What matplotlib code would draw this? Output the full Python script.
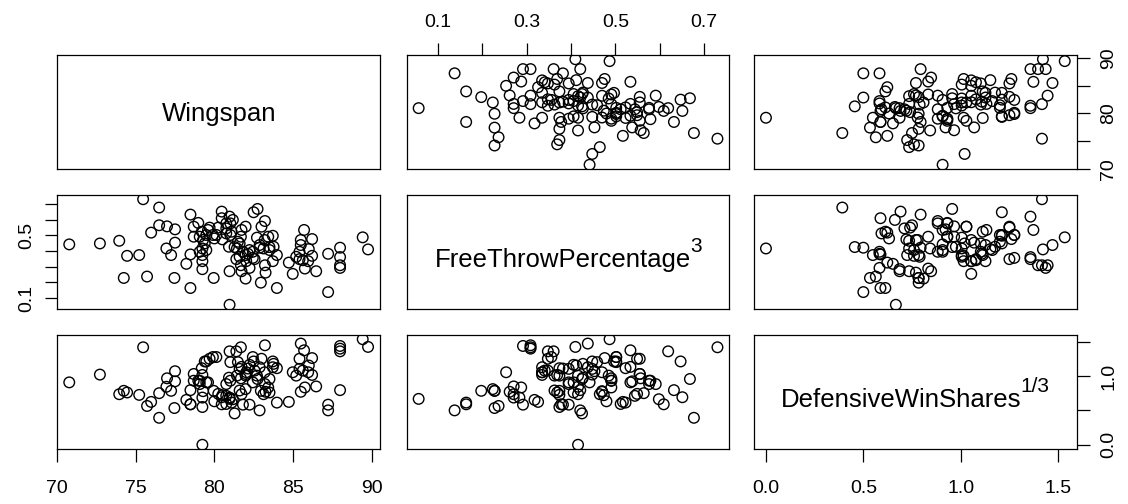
#scatterplot matrix of wingspan, free throw % and defensive win shares

import numpy as np
import matplotlib
matplotlib.use("Agg")
import matplotlib.pyplot as plt

plt.rcParams['font.family'] = ['Liberation Sans', 'DejaVu Sans']

wingspan = [70.76, 72.71, 73.94, 74.44, 75.21, 74.23, 75.71, 75.46, 76.48, 76.48,
            75.97, 76.98, 77.49, 77.49, 76.94, 77.24, 77.45, 78.47, 78.47, 78.21,
            78.47, 78.97, 78.68, 78.68, 79.06, 79.19, 79.27, 79.23, 79.48, 79.23,
            79.23, 79.23, 79.69, 79.90, 79.99, 79.95, 80.24, 80.46, 80.46, 80.96,
            81.17, 81.01, 80.75, 81.01, 80.50, 80.92, 80.96, 80.96, 81.60, 81.43,
            81.68, 81.72, 81.98, 81.60, 81.81, 81.98, 82.23, 82.44, 82.23, 81.72,
            81.98, 82.49, 82.74, 82.99, 83.21, 82.70, 82.87, 83.12, 83.42, 83.71,
            83.50, 83.76, 83.71, 83.97, 83.21, 83.25, 82.95, 83.97, 84.73, 84.98,
            85.20, 85.41, 85.49, 85.49, 85.70, 86.00, 86.21, 86.21, 85.75, 85.96,
            86.47, 87.23, 87.99, 87.99, 87.99, 87.99, 87.23, 89.43, 89.77, 81.28,
            81.49, 82.13, 81.39, 82.87, 83.50, 82.55, 80.12, 80.75, 81.09, 79.48,
            79.38, 79.06, 82.02, 81.68, 82.44, 83.19, 85.41, 85.62, 80.75, 79.59]

ft_cubed = [0.442, 0.448, 0.465, 0.369, 0.374, 0.228, 0.237, 0.730, 0.677, 0.564,
            0.517, 0.557, 0.538, 0.453, 0.416, 0.374, 0.228, 0.632, 0.378, 0.318,
            0.164, 0.579, 0.555, 0.491, 0.491, 0.523, 0.470, 0.416, 0.406, 0.374,
            0.335, 0.284, 0.549, 0.502, 0.480, 0.228, 0.549, 0.651, 0.609, 0.619,
            0.598, 0.576, 0.512, 0.502, 0.474, 0.427, 0.271, 0.057, 0.448, 0.416,
            0.491, 0.534, 0.555, 0.363, 0.395, 0.374, 0.406, 0.356, 0.292, 0.271,
            0.224, 0.647, 0.668, 0.555, 0.591, 0.485, 0.421, 0.416, 0.491, 0.497,
            0.406, 0.427, 0.335, 0.374, 0.309, 0.262, 0.198, 0.164, 0.326, 0.254,
            0.363, 0.348, 0.470, 0.438, 0.534, 0.412, 0.476, 0.369, 0.288, 0.335,
            0.271, 0.382, 0.421, 0.361, 0.309, 0.292, 0.138, 0.487, 0.410, 0.425,
            0.459, 0.382, 0.348, 0.438, 0.425, 0.348, 0.502, 0.544, 0.523, 0.502,
            0.448, 0.395, 0.335, 0.309, 0.395, 0.470, 0.395, 0.341, 0.576, 0.534]

wing_dws = [70.76, 72.71, 73.94, 74.19, 74.44, 75.21, 75.46, 75.71, 75.97, 76.48,
            76.48, 76.48, 76.94, 76.98, 77.24, 77.45, 77.45, 77.49, 78.21, 78.47,
            78.47, 78.47, 78.68, 78.76, 79.02, 79.23, 79.27, 79.19, 79.27, 79.44,
            79.23, 79.23, 79.23, 79.23, 79.23, 79.48, 79.74, 79.90, 80.03, 80.24,
            80.20, 80.46, 80.46, 80.71, 80.71, 80.96, 81.26, 80.96, 80.96, 80.96,
            80.96, 80.96, 81.22, 81.47, 81.43, 81.47, 81.68, 81.72, 81.72, 81.68,
            81.98, 81.98, 81.98, 81.98, 82.19, 82.28, 82.44, 82.70, 82.70, 82.95,
            82.95, 82.95, 83.21, 82.91, 83.21, 83.21, 83.46, 83.50, 83.71, 83.97,
            83.71, 83.97, 84.69, 84.94, 85.20, 85.49, 85.75, 85.49, 85.49, 85.53,
            85.49, 85.75, 86.00, 86.00, 86.21, 86.25, 86.47, 87.23, 87.23, 87.99,
            87.99, 87.99, 87.99, 87.99, 89.43, 89.77, 80.01, 80.12, 80.86, 80.54,
            81.49, 82.02, 81.49, 81.92, 82.44, 80.75, 83.50, 78.85, 82.23, 82.87]

dws_root = [0.907, 1.020, 0.735, 0.784, 0.760, 0.725, 1.417, 0.564, 0.623, 0.966,
            0.750, 0.392, 0.843, 0.784, 0.534, 1.069, 0.922, 0.652, 0.588, 0.588,
            0.931, 0.794, 1.029, 0.931, 0.931, 1.211, 1.113, 1.015, 0.907, 0.907,
            0.779, 0.686, 0.632, 0.549, 0.000, 1.211, 1.250, 1.275, 1.275, 0.784,
            0.721, 0.711, 0.588, 0.975, 0.686, 1.358, 1.358, 1.201, 0.931, 0.662,
            0.613, 0.456, 1.005, 1.201, 1.103, 0.966, 1.029, 0.809, 0.735, 0.583,
            1.417, 1.162, 1.054, 0.583, 1.275, 1.211, 1.078, 1.127, 0.956, 1.250,
            1.054, 0.500, 1.446, 0.784, 0.770, 0.735, 0.833, 1.127, 1.176, 1.211,
            0.956, 0.613, 1.113, 1.054, 0.623, 1.471, 1.373, 1.250, 1.103, 1.005,
            0.770, 0.833, 1.152, 1.078, 1.054, 1.015, 0.848, 1.260, 0.500, 1.436,
            1.397, 1.358, 0.794, 0.583, 1.534, 1.422, 0.740, 0.691, 0.667, 0.593,
            0.789, 1.108, 1.132, 1.005, 1.005, 0.882, 0.760, 0.882, 0.907, 0.882]

## points read off the FreeThrowPercentage^3 / DefensiveWinShares^(1/3) panel
# (only used to line the two lists above up player by player)
ft_check = [0.051, 0.136, 0.163, 0.163, 0.197, 0.197, 0.227, 0.227, 0.227, 0.223,
            0.235, 0.254, 0.259, 0.270, 0.280, 0.288, 0.273, 0.292, 0.292, 0.305,
            0.307, 0.320, 0.329, 0.335, 0.339, 0.346, 0.358, 0.361, 0.373, 0.371,
            0.371, 0.373, 0.380, 0.388, 0.402, 0.407, 0.403, 0.402, 0.411, 0.411,
            0.414, 0.422, 0.420, 0.423, 0.423, 0.432, 0.430, 0.442, 0.439, 0.448,
            0.456, 0.460, 0.465, 0.467, 0.477, 0.484, 0.486, 0.486, 0.486, 0.492,
            0.494, 0.503, 0.508, 0.517, 0.526, 0.526, 0.534, 0.532, 0.545, 0.553,
            0.553, 0.555, 0.553, 0.562, 0.577, 0.589, 0.596, 0.592, 0.605, 0.621,
            0.632, 0.647, 0.652, 0.668, 0.676, 0.674, 0.731]
dws_check = [0.63, 0.50, 0.94, 0.61, 1.26, 0.78, 1.27, 0.79, 0.65, 0.59,
             0.56, 1.04, 0.76, 0.85, 0.91, 0.84, 0.71, 1.23, 0.59, 1.44,
             1.42, 0.58, 1.11, 1.05, 0.81, 0.59, 1.37, 1.23, 1.25, 1.01,
             0.77, 0.56, 0.60, 1.10, 1.27, 1.42, 0.91, 0.56, 1.15, 0.74,
             0.78, 0.98, 0.49, 0.46, 0.00, 1.46, 1.15, 1.35, 0.81, 1.08,
             1.19, 1.26, 0.71, 0.78, 1.05, 1.27, 1.53, 0.98, 0.64, 0.95,
             0.83, 1.27, 1.20, 0.62, 1.13, 0.98, 1.37, 0.96, 0.94, 1.42,
             1.25, 1.05, 0.72, 0.76, 0.91, 0.81, 0.96, 0.64, 0.59, 1.36,
             0.78, 1.15, 0.71, 1.14, 0.97, 0.39, 1.42]

label_names = ['Wingspan', 'FreeThrowPercentage', 'DefensiveWinShares']
label_powers = ['', '3', '1/3']

## line the players up
wa, fa = np.array(wingspan), np.array(ft_cubed)
wb, db = np.array(wing_dws), np.array(dws_root)
fc, dc = np.array(ft_check), np.array(dws_check)
n = len(wa)

# cost of giving dws value k to player i (roughly in pixels of the panels)
cost_w = ((wa[:, None] - wb[None, :]) * 15.75) ** 2
dx = (fa[:, None, None] - fc[None, None, :]) * 440
dy = (db[None, :, None] - dc[None, None, :]) * 130
cost = cost_w + (dx ** 2 + dy ** 2).min(axis=2)

# start from wingspan order, then swap pairs while it helps
perm = np.empty(n, dtype=int)
perm[np.argsort(wa, kind='stable')] = np.argsort(wb, kind='stable')
idx = np.arange(n)
for _ in range(200):
    changed = False
    for i in range(n):
        delta = (cost[i, perm] + cost[idx, perm[i]]) - (cost[i, perm[i]] + cost[idx, perm])
        j = int(np.argmin(delta))
        if delta[j] < -1e-9:
            perm[i], perm[j] = perm[j], perm[i]
            changed = True
    if not changed:
        break

dws = db[perm]
data = [wa, fa, dws]

# R style 4% padding on each variable
lims = []
for v in data:
    r = v.max() - v.min()
    lims.append((v.min() - 0.04 * r, v.max() + 0.04 * r))

ticks = [np.arange(70, 91, 5), np.arange(0.1, 0.71, 0.1), np.arange(0.0, 1.51, 0.5)]

## layout (pixels of a 1128x504 figure)
W, H = 1128, 504
col_left = [57.3, 406.7, 754.0]
row_top = [55.0, 195.0, 335.0]
pw, ph = 322.7, 114.0

fig = plt.figure(figsize=(W / 100, H / 100), dpi=100)

axes = {}
for i in range(3):
    for j in range(3):
        ax = fig.add_axes([col_left[j] / W, 1 - (row_top[i] + ph) / H, pw / W, ph / H])
        axes[(i, j)] = ax
        for s in ax.spines.values():
            s.set_linewidth(0.9)
        ax.set_xlim(lims[j])
        ax.set_ylim(lims[i])
        ax.set_xticks([])
        ax.set_yticks([])
        if i != j:
            ax.scatter(data[j], data[i], s=58, facecolors='none', edgecolors='black',
                       linewidths=1.0)

## diagonal labels, with R style superscripts
renderer = fig.canvas.get_renderer()
for i in range(3):
    xc = col_left[i] + pw / 2
    yc = row_top[i] + ph / 2
    t = fig.text(0, 0, label_names[i], fontsize=18.5, ha='left', va='baseline')
    w_base = t.get_window_extent(renderer).width
    w_sup = 0
    if label_powers[i]:
        s = fig.text(0, 0, label_powers[i], fontsize=15, ha='left', va='baseline')
        w_sup = s.get_window_extent(renderer).width - 1
    left = xc - (w_base + w_sup) / 2
    base_y = yc + 9.2 + (5.8 if label_powers[i] else 0)
    t.set_position((left / W, 1 - base_y / H))
    if label_powers[i]:
        s.set_position(((left + w_base - 1) / W, 1 - (base_y - 15.5) / H))

tick_kw = dict(length=9, width=0.9, labelsize=14)

# bottom axes (col 1 and col 3)
ax = axes[(2, 0)]
ax.set_xticks(ticks[0])
ax.set_xticklabels(['70', '75', '80', '85', '90'])
ax.tick_params(axis='x', pad=13, **tick_kw)

ax = axes[(2, 2)]
ax.set_xticks(ticks[2])
ax.set_xticklabels(['0.0', '0.5', '1.0', '1.5'])
ax.tick_params(axis='x', pad=13, **tick_kw)

# top axis (col 2)
ax = axes[(0, 1)]
ax.xaxis.tick_top()
ax.set_xticks(ticks[1])
ax.set_xticklabels(['0.1', '', '0.3', '', '0.5', '', '0.7'])
ax.tick_params(axis='x', pad=8, **tick_kw)

# right axes (row 1 and row 3)
ax = axes[(0, 2)]
ax.yaxis.tick_right()
ax.set_yticks(ticks[0])
ax.set_yticklabels(['70', '', '80', '', '90'], rotation=90, va='center')
ax.tick_params(axis='y', pad=8, **tick_kw)

ax = axes[(2, 2)]
ax.yaxis.tick_right()
ax.set_yticks(ticks[2])
ax.set_yticklabels(['0.0', '', '1.0', ''], rotation=90, va='center')
ax.tick_params(axis='y', pad=8, **tick_kw)

# left axis (row 2)
ax = axes[(1, 0)]
ax.set_yticks(ticks[1])
ax.set_yticklabels(['0.1', '', '', '', '0.5', '', ''], rotation=90, va='center')
ax.tick_params(axis='y', pad=7, **tick_kw)

plt.savefig('out.png', dpi=100)
